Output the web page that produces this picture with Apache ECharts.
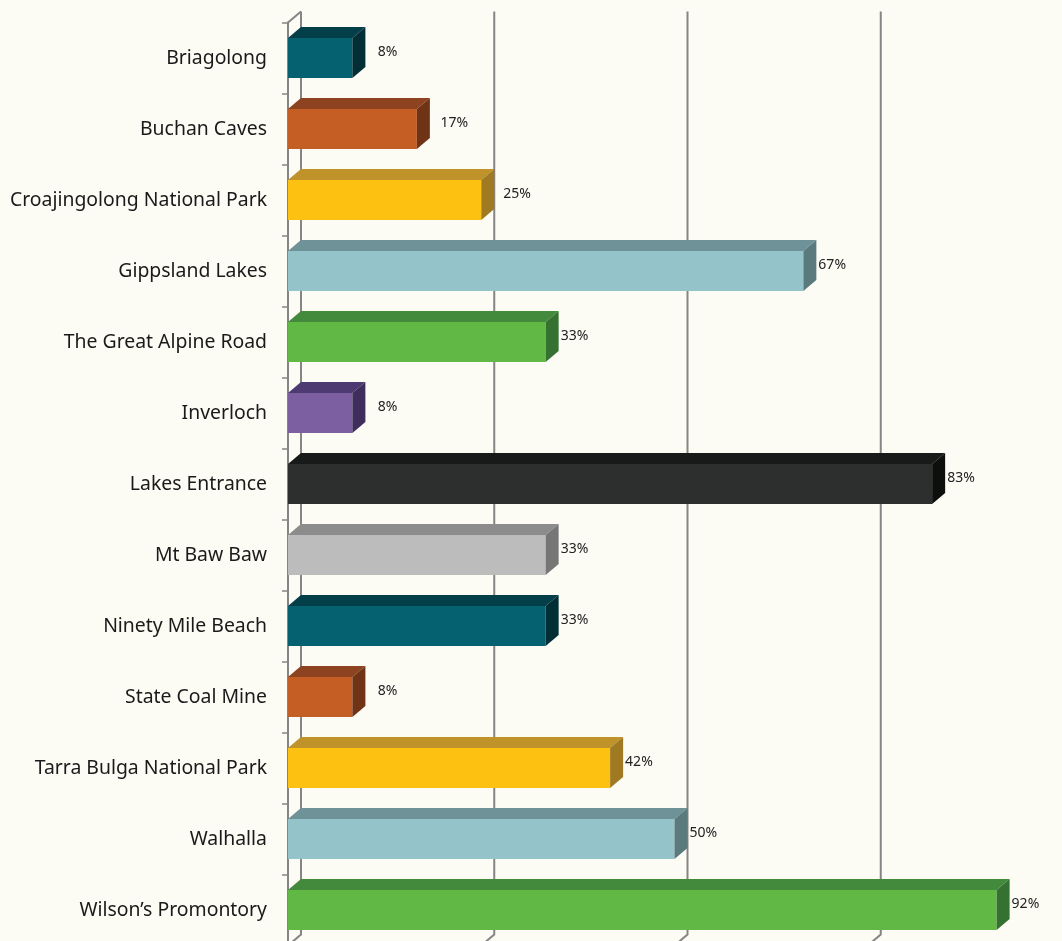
<!DOCTYPE html>
<html>
<head>
<meta charset="utf-8">
<script src="https://cdn.jsdelivr.net/npm/echarts@6/dist/echarts.min.js"></script>
<style>
html,body{margin:0;padding:0;background:#fcfbf4;}
#chart{width:1062px;height:941px;}
</style>
</head>
<body>
<div id="chart"></div>
<script>
const categories = [
  'Briagolong', 'Buchan Caves', 'Croajingolong National Park', 'Gippsland Lakes',
  'The Great Alpine Road', 'Inverloch', 'Lakes Entrance', 'Mt Baw Baw',
  'Ninety Mile Beach', 'State Coal Mine', 'Tarra Bulga National Park', 'Walhalla',
  'Wilson\u2019s Promontory'
];
const values = [8.33, 16.67, 25, 66.67, 33.33, 8.33, 83.33, 33.33, 33.33, 8.33, 41.67, 50, 91.67];
const valueLabels = ['8%', '17%', '25%', '67%', '33%', '8%', '83%', '33%', '33%', '8%', '42%', '50%', '92%'];
const xTicks = [0, 25, 50, 75, 100];

// front, top, side colours
const palette = [
  ['#05616f', '#033f49', '#022f36'],
  ['#c45e24', '#8e4320', '#6e3415'],
  ['#fdc111', '#bf922a', '#a07a22'],
  ['#94c3c9', '#6e9297', '#5a7a7e'],
  ['#62b845', '#438a3d', '#357131'],
  ['#7b5fa0', '#4e3a72', '#3f2d5c'],
  ['#2d2f2f', '#181a1a', '#0d0f0d'],
  ['#bcbcbc', '#8c8c8c', '#767676']
];

const DX = 13, DY = 11, BAR_H = 40;

const chart = echarts.init(document.getElementById('chart'), null, {renderer: 'canvas'});

function renderGrid(params, api) {
  const cs = params.coordSys;
  const v = api.value(0);
  const x = api.coord([v, 0])[0];
  const top = cs.y, bottom = cs.y + cs.height;
  const children = [];
  const st = {stroke: '#858585', lineWidth: 2, fill: null};
  children.push({type: 'polyline', shape: {points: [[x + DX, top - DY], [x + DX, bottom - DY], [x, bottom]]}, style: st});
  if (v === 0) {
    children.push({type: 'line', shape: {x1: x, y1: top, x2: x + DX, y2: top - DY}, style: st});
  }
  return {type: 'group', children: children};
}

function renderBar(params, api) {
  const v = api.value(0);
  const idx = api.value(1);
  const p0 = api.coord([0, idx]);
  const p1 = api.coord([v, idx]);
  const x0 = p0[0], x1 = p1[0], cy = p0[1];
  const yT = cy - BAR_H / 2, yB = cy + BAR_H / 2;
  const c = palette[idx % palette.length];
  const off = v < 30 ? 27 - 0.2 * v : 15;
  return {
    type: 'group',
    children: [
      {type: 'rect', shape: {x: x0, y: yT, width: x1 - x0, height: BAR_H}, style: {fill: c[0]}},
      {type: 'polygon', shape: {points: [[x0, yT], [x0 + DX, yT - DY], [x1 + DX, yT - DY], [x1, yT]]}, style: {fill: c[1]}},
      {type: 'polygon', shape: {points: [[x1, yT], [x1 + DX, yT - DY], [x1 + DX, yB - DY], [x1, yB]]}, style: {fill: c[2]}},
      {type: 'text', style: {text: valueLabels[idx], x: x1 + off, y: cy - 6, fill: '#222', font: '14px "Noto Sans"', verticalAlign: 'middle', align: 'left'}}
    ]
  };
}

chart.setOption({
  backgroundColor: '#fcfbf4',
  animation: false,
  grid: {left: 288, right: 1, top: 22.5, height: 923, outerBoundsMode: 'none', containLabel: false},
  xAxis: {
    type: 'value', min: 0, max: 100, interval: 25,
    axisLine: {show: false}, axisTick: {show: false}, axisLabel: {show: false}, splitLine: {show: false}
  },
  yAxis: {
    type: 'category', data: categories, inverse: true,
    axisLine: {show: true, lineStyle: {color: '#858585', width: 2}},
    axisTick: {show: true, length: 6, lineStyle: {color: '#858585', width: 1.5}},
    axisLabel: {color: '#1a1a1a', fontSize: 19.4, fontFamily: 'Noto Sans', margin: 21, padding: [4, 0, 0, 0]}
  },
  series: [
    {
      type: 'custom', renderItem: renderGrid, silent: true, z: 1,
      data: xTicks.map(t => [t, 0]), encode: {x: 0, y: 1}, clip: false
    },
    {
      type: 'custom', renderItem: renderBar, z: 3,
      data: values.map((v, i) => [v, i]), encode: {x: 0, y: 1}, clip: false
    }
  ]
});
</script>
</body>
</html>
